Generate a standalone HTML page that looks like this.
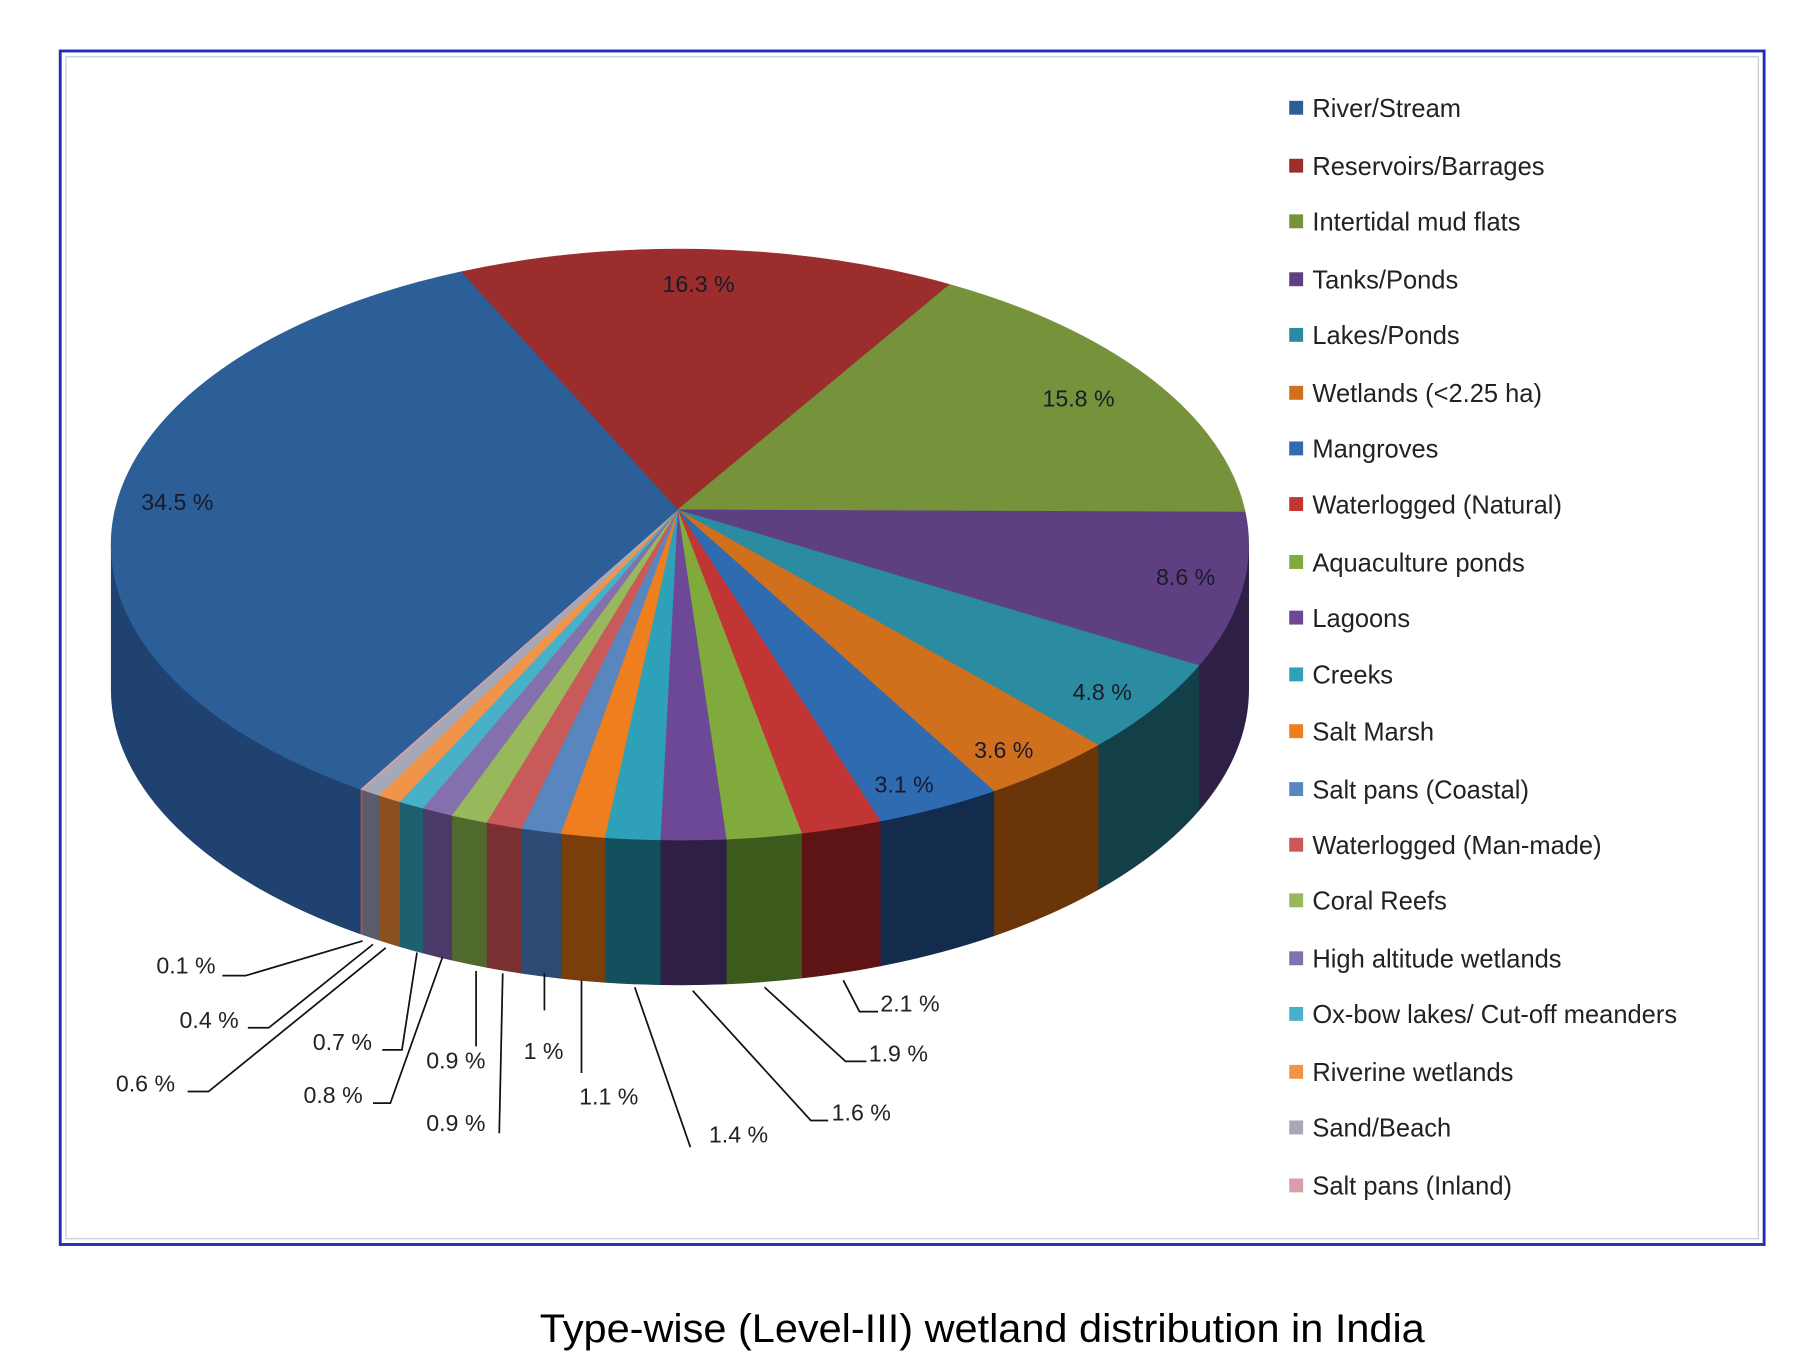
<!DOCTYPE html>
<html><head><meta charset="utf-8"><style>
html,body{margin:0;padding:0;background:#fff;}
svg{display:block;}
</style></head><body>
<svg id="s" width="1807" height="1365" viewBox="0 0 1560 1178" preserveAspectRatio="none" xmlns="http://www.w3.org/2000/svg" font-family="'Liberation Sans', sans-serif">
<rect x="0" y="0" width="1560" height="1178" fill="#fff"/>
<rect x="52" y="44" width="1471" height="1030" fill="none" stroke="#1f2fb8" stroke-width="2.5"/>
<rect x="57" y="49" width="1461" height="1020" fill="none" stroke="#c8c8d0" stroke-width="1"/>
<g id="pie"></g>
<g id="lab" font-size="20" fill="#222"></g>
<g id="leg" font-size="22" fill="#222"></g>
<text x="848" y="1158" font-size="34" text-anchor="middle" fill="#000" textLength="764" lengthAdjust="spacingAndGlyphs">Type-wise (Level-III) wetland distribution in India</text>
</svg>
<script>
var NS="http://www.w3.org/2000/svg";
var cx=587,cy=470,rx=491,ry=255,D=125,ax=585,ay=440;
function tx(x,top){var c=(x-cx)/rx;c=Math.max(-1,Math.min(1,c));var a=Math.acos(c);return top?2*Math.PI-a:a;}
function P(t,d){return [cx+rx*Math.cos(t),cy+ry*Math.sin(t)+(d||0)];}
function f(p){return p[0].toFixed(1)+","+p[1].toFixed(1);}
function add(par,tag,at){var e=document.createElementNS(NS,tag);for(var k in at)e.setAttribute(k,at[k]);document.getElementById(par).appendChild(e);return e;}
// boundaries clockwise
var B=[[398,1],[820,1],[1075,1],[1035,0],[948,0],[858,0],[760,0],[692,0],[627,0],[570,0],[522,0],[484,0],[450,0],[420,0],[390,0],[365,0],[345,0],[327,0],[313,0],[311,0]];
var T=B.map(function(b){return tx(b[0],b[1]);});
for(var i=1;i<T.length;i++){while(T[i]<T[i-1])T[i]+=2*Math.PI;}
T.push(tx(398,1)+2*Math.PI*Math.ceil((T[T.length-1]-tx(398,1))/(2*Math.PI)));
var cols=[
["#9b2d2d","#5a1818"],["#76923a","#3e5220"],["#5e3f82","#2e1f45"],["#2b8ba0","#123f48"],["#d06f1c","#6a3508"],["#2f6bb0","#132c4e"],
["#c23535","#5e1414"],["#80ab3c","#3c5a1c"],["#6d4896","#2e1f45"],["#2ea0b8","#11505c"],["#ee7e1e","#7a3e0a"],["#5a86c0","#2c4a72"],
["#c85a5a","#7a3030"],["#98b85c","#4f6a2c"],["#8470ad","#4a3a6a"],["#48b0c8","#1f6070"],["#f0944a","#8a5020"],["#a6a8b8","#5a5c6a"],["#d8a0a8","#8a5a60"],
["#2c5e98","#1f4270"]];
// sides first
var sides=[];
for(var i=0;i<T.length-1;i++){
  var a=T[i],b=T[i+1];
  // normalize segment overlapping [0,PI] mod 2PI
  for(var k=-1;k<=2;k++){
    var lo=Math.max(a,k*2*Math.PI),hi=Math.min(b,k*2*Math.PI+Math.PI);
    if(hi>lo){
      var p1=P(lo),p2=P(hi),q2=P(hi,D),q1=P(lo,D);
      var lg=(hi-lo)>Math.PI?1:0;
      add("pie","path",{d:"M"+f(p1)+" A"+rx+","+ry+" 0 "+lg+" 1 "+f(p2)+" L"+f(q2)+" A"+rx+","+ry+" 0 "+lg+" 0 "+f(q1)+" Z",fill:cols[i][1],stroke:cols[i][1],"stroke-width":"0.5"});
    }
  }
}
for(var i=0;i<T.length-1;i++){
  var a=T[i],b=T[i+1],p1=P(a),p2=P(b),lg=(b-a)>Math.PI?1:0;
  add("pie","path",{d:"M"+ax+","+ay+" L"+f(p1)+" A"+rx+","+ry+" 0 "+lg+" 1 "+f(p2)+" Z",fill:cols[i][0],stroke:cols[i][0],"stroke-width":"0.5"});
}
// inner labels
[["34.5 %",122,440],["16.3 %",572,252],["15.8 %",900,351],["8.6 %",998,505],["4.8 %",926,604],["3.6 %",841,654],["3.1 %",755,684]].forEach(function(l){var t=add("lab","text",{x:l[1],y:l[2],fill:"#1a1a2a"});t.textContent=l[0];});
// outer labels
var out=[["0.1 %",135,840,"192,842 212,842 313,812"],["0.4 %",155,887,"214,887 232,887 322,815"],["0.6 %",100,942,"162,942 180,942 333,818"],
["0.7 %",270,906,"330,906 347,906 360,822"],["0.8 %",262,952,"322,952 337,952 382,826"],["0.9 %",368,922,"411,838 411,903"],
["0.9 %",368,976,"434,840 431,978"],["1 %",452,914,"470,840 470,872"],["1.1 %",500,953,"502,846 502,926"],
["1.4 %",612,986,"596,990 548,852"],["1.6 %",718,967,"715,967 700,967 598,855"],["1.9 %",750,916,"748,916 730,916 660,852"],["2.1 %",760,873,"758,873 742,873 728,846"]];
out.forEach(function(l){var t=add("lab","text",{x:l[1],y:l[2]});t.textContent=l[0];add("lab","polyline",{points:l[3],fill:"none",stroke:"#111","stroke-width":"1.5"});});
// legend
var names=["River/Stream","Reservoirs/Barrages","Intertidal mud flats","Tanks/Ponds","Lakes/Ponds","Wetlands (<2.25 ha)","Mangroves","Waterlogged (Natural)","Aquaculture ponds","Lagoons","Creeks","Salt Marsh","Salt pans (Coastal)","Waterlogged (Man-made)","Coral Reefs","High altitude wetlands","Ox-bow lakes/ Cut-off meanders","Riverine  wetlands","Sand/Beach","Salt pans (Inland)"];
var lc=["#2c5e98"].concat(cols.slice(0,19).map(function(c){return c[0];}));
var ys=[93,143,191,241,289,339,387,435,485,533,582,631,681,729,777,827,875,925,973,1023];
names.forEach(function(n,i){add("leg","rect",{x:1113,y:ys[i]-6,width:12,height:12,fill:lc[i]});var t=add("leg","text",{x:1133,y:ys[i]+8});t.textContent=n;});
</script>
</body></html>
